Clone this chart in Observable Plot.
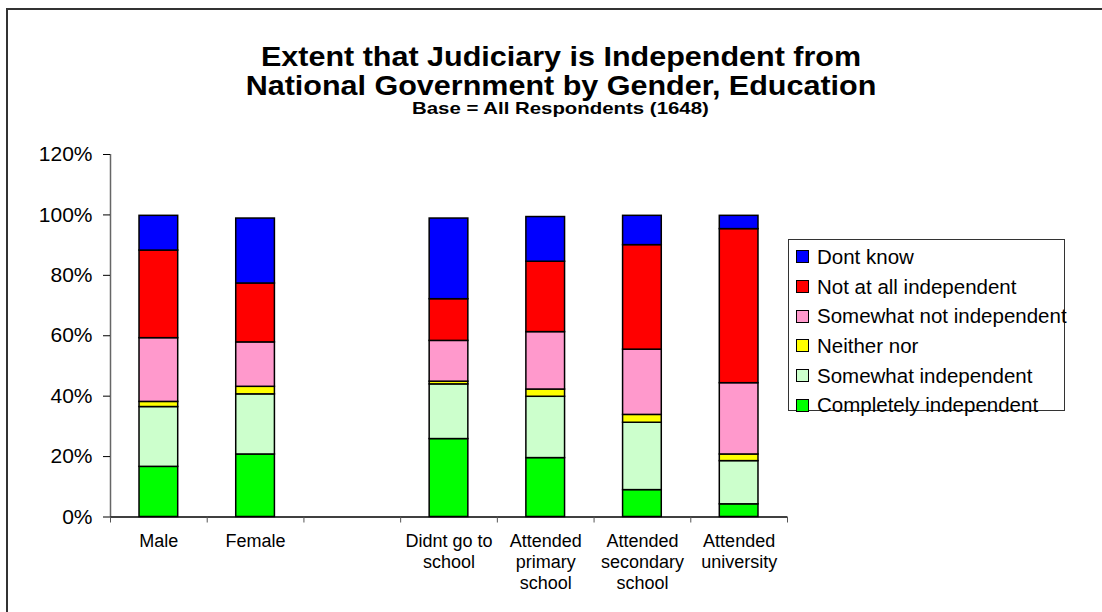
<!DOCTYPE html>
<html>
<head>
<meta charset="utf-8">
<script src="https://cdn.jsdelivr.net/npm/d3@7"></script>
<script src="https://cdn.jsdelivr.net/npm/@observablehq/plot@0.6"></script>
<style>
  html, body { margin: 0; padding: 0; background: #fff; }
  body { width: 1102px; height: 612px; position: relative; overflow: hidden; font-family: "Liberation Sans", Arial, sans-serif; }
  #frame { position: absolute; left: 6px; top: 8px; width: 1120px; height: 640px; border: 2px solid #333; box-sizing: border-box; }
  #title { position: absolute; left: 0; top: 43px; width: 1122px; text-align: center; font-weight: bold; font-size: 27px; line-height: 29px; color: #000; transform: scaleX(1.13); transform-origin: 561px 0; }
  #subtitle { position: absolute; left: 0; top: 100px; width: 1122px; text-align: center; font-weight: bold; font-size: 17px; line-height: 17px; color: #000; transform: scaleX(1.2); transform-origin: 564px 0; }
  #chart { position: absolute; left: 0; top: 130px; }
  #legend { position: absolute; left: 788px; top: 239px; width: 277px; height: 172px; border: 1.5px solid #333; box-sizing: border-box; background: #fff; padding-top: 2px; }
  .item { display: flex; align-items: center; height: 29.7px; font-size: 20.5px; color: #000; white-space: nowrap; }
  .sw { width: 11px; height: 11px; border: 1.5px solid #000; margin-left: 7px; margin-right: 8px; flex: none; }
</style>
</head>
<body>
<div id="frame"></div>
<div id="title">Extent that Judiciary is Independent from<br>National Government by Gender, Education</div>
<div id="subtitle">Base = All Respondents (1648)</div>
<div id="chart"></div>
<div id="legend"></div>
<script>
// Categories (slot 2 is an empty gap in the original chart)
const categories = ["Male", "Female", "", "Didnt go to\nschool", "Attended\nprimary\nschool", "Attended\nsecondary\nschool", "Attended\nuniversity"];
// Response series, bottom to top of each stack (percent)
const responses = ["Completely independent", "Somewhat independent", "Neither nor", "Somewhat not independent", "Not at all independent", "Dont know"];
const completelyIndependent = [16.6, 20.7, null, 25.8, 19.5, 8.9, 4.2];
const somewhatIndependent   = [19.8, 19.9, null, 18.1, 20.3, 22.3, 14.3];
const neitherNor            = [1.7, 2.5, null, 0.9, 2.4, 2.6, 2.2];
const somewhatNotIndependent= [21.1, 14.7, null, 13.5, 19.0, 21.6, 23.6];
const notAtAllIndependent   = [29.0, 19.5, null, 13.8, 23.3, 34.6, 51.0];
const dontKnow              = [11.5, 21.5, null, 26.7, 14.8, 9.7, 4.4];
const colors = ["#00FF00", "#CCFFCC", "#FFFF00", "#FF99CC", "#FF0000", "#0000FF"];
const yTicks = [0, 20, 40, 60, 80, 100, 120];

const series = [completelyIndependent, somewhatIndependent, neitherNor, somewhatNotIndependent, notAtAllIndependent, dontKnow];
const data = [];
series.forEach((vals, s) => {
  vals.forEach((v, i) => {
    if (v != null) data.push({slot: i, x1: i + 0.3, x2: i + 0.7, value: v, response: responses[s]});
  });
});
const slotEdges = d3.range(categories.length + 1);

const chart = Plot.plot({
  width: 800,
  height: 482,
  marginLeft: 110,
  marginRight: 13,
  marginTop: 24,
  marginBottom: 95.5,
  style: {fontFamily: "'Liberation Sans', Arial, sans-serif", color: "#000", background: "transparent"},
  x: {type: "linear", domain: [0, categories.length]},
  y: {domain: [0, 120]},
  color: {domain: responses, range: colors},
  marks: [
    Plot.rectY(data, Plot.stackY({x1: "x1", x2: "x2", y: "value", fill: "response", stroke: "#000", strokeWidth: 1.5, order: null})),
    Plot.ruleX([0], {stroke: "#666", strokeWidth: 1.5}),
    Plot.ruleY([0], {stroke: "#000", strokeWidth: 1.5}),
    Plot.axisY({ticks: yTicks, tickFormat: d => d + "%", tickSize: 7, tickPadding: 11, fontSize: 21, stroke: "#000", label: null}),
    Plot.axisX({ticks: slotEdges, tickFormat: () => "", tickSize: 6, stroke: "#555", label: null}),
    Plot.text(categories, {x: (d, i) => i + 0.5, y: 0, text: d => d, lineAnchor: "top", dy: 15, fontSize: 18, lineHeight: 1.17, fill: "#000"})
  ]
});
document.getElementById("chart").appendChild(chart);

// Legend (top entry = top of stack)
const legend = document.getElementById("legend");
responses.slice().reverse().forEach((r) => {
  const idx = responses.indexOf(r);
  const item = document.createElement("div");
  item.className = "item";
  const sw = document.createElement("span");
  sw.className = "sw";
  sw.style.background = colors[idx];
  const t = document.createElement("span");
  t.textContent = r;
  item.appendChild(sw);
  item.appendChild(t);
  legend.appendChild(item);
});
</script>
</body>
</html>
